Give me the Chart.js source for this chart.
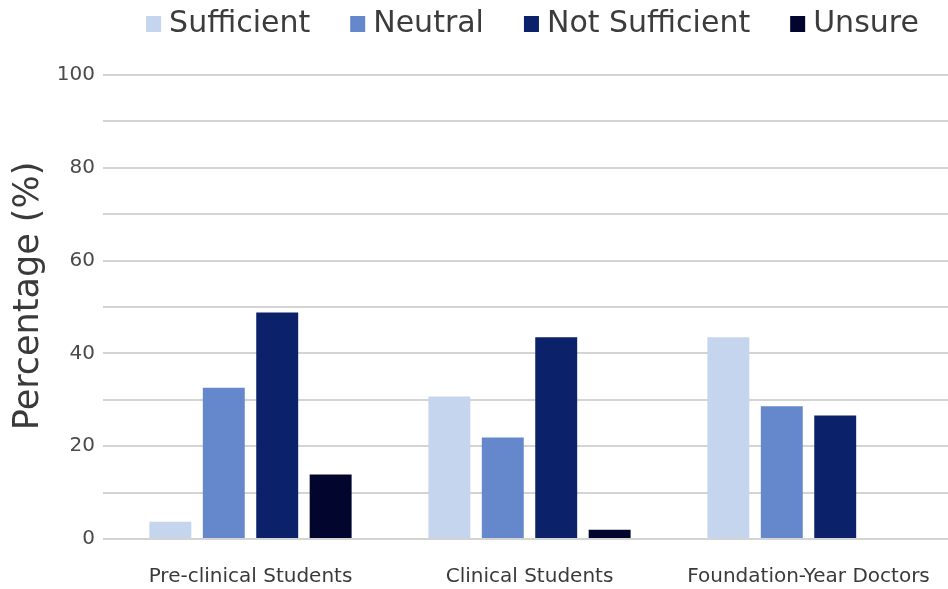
<!DOCTYPE html>
<html>
<head>
<meta charset="utf-8">
<script src="https://cdn.jsdelivr.net/npm/chart.js@4"></script>
<style>
  html, body { margin: 0; padding: 0; background: #ffffff; overflow: hidden; }
  #wrap { width: 948px; height: 589px; position: relative; }
</style>
</head>
<body>
<div id="wrap"><canvas id="c"></canvas></div>
<script>
// Respondent groups along the x axis
const categories = ['Pre-clinical Students', 'Clinical Students', 'Foundation-Year Doctors'];

// Share of each group (%) per response
const sufficient    = [3.7, 30.7, 43.5];
const neutral       = [32.6, 21.9, 28.6];
const notSufficient = [48.8, 43.5, 26.6];
const unsure        = [13.9, 2.0, 0];

// Labelled y ticks
const yTickLabels = [0, 20, 40, 60, 80, 100];

const FONT = '"DejaVu Sans", "Noto Sans", sans-serif';

const series = [
  { label: 'Sufficient',     data: sufficient,    color: '#c6d5ee' },
  { label: 'Neutral',        data: neutral,       color: '#6588cc' },
  { label: 'Not Sufficient', data: notSufficient, color: '#0b2169' },
  { label: 'Unsure',         data: unsure,        color: '#02062e' }
];

// Legend row drawn above the plot, centred over the chart area
const topLegend = {
  id: 'topLegend',
  afterDraw(chart) {
    const ctx = chart.ctx;
    const area = chart.chartArea;
    const boxW = 15, boxH = 16, gap = 8, itemGap = 40, cy = 24;
    ctx.save();
    ctx.font = '30px ' + FONT;
    const items = chart.data.datasets.map(ds => ({
      text: ds.label,
      color: ds.backgroundColor,
      w: ctx.measureText(ds.label).width
    }));
    const total = items.reduce((s, it) => s + boxW + gap + it.w, 0) + itemGap * (items.length - 1);
    let x = (area.left + area.right) / 2 - total / 2 + 3;
    ctx.textBaseline = 'middle';
    ctx.textAlign = 'left';
    items.forEach(it => {
      ctx.fillStyle = it.color;
      ctx.fillRect(x, cy - boxH / 2, boxW, boxH);
      x += boxW + gap;
      ctx.fillStyle = '#3c3c3c';
      ctx.fillText(it.text, x, cy);
      x += it.w + itemGap;
    });
    ctx.restore();
  }
};

new Chart(document.getElementById('c'), {
  type: 'bar',
  data: {
    labels: categories,
    datasets: series.map(s => ({
      label: s.label,
      data: s.data,
      backgroundColor: s.color,
      borderWidth: 0,
      categoryPercentage: 0.766,
      barPercentage: 0.785
    }))
  },
  plugins: [topLegend],
  options: {
    responsive: true,
    maintainAspectRatio: false,
    animation: false,
    layout: { padding: { top: 75, right: 0, bottom: -26, left: 0 } },
    plugins: {
      tooltip: { enabled: false },
      legend: { display: false }
    },
    scales: {
      x: {
        grid: { display: false, drawTicks: false },
        border: { display: false },
        ticks: {
          color: '#3a3a3a',
          font: { family: FONT, size: 20, lineHeight: 3.8 },
          padding: 0,
          maxRotation: 0,
          autoSkip: false
        }
      },
      y: {
        min: 0,
        max: 100,
        afterFit: (axis) => { axis.width = 111; },
        border: { display: false },
        grid: {
          color: '#d4d4d4',
          lineWidth: 2,
          tickLength: 8,
          tickColor: '#d4d4d4'
        },
        ticks: {
          stepSize: 10,
          padding: 8,
          color: '#4a4a4a',
          font: { family: FONT, size: 20 },
          callback: (v) => yTickLabels.includes(v) ? String(v) : ''
        },
        title: {
          display: true,
          // leading spaces lift the rotated title slightly above the axis centre
          text: '  Percentage (%)',
          color: '#3a3a3a',
          font: { family: FONT, size: 35 },
          padding: { top: 8, bottom: 0 }
        }
      }
    }
  }
});
</script>
</body>
</html>
